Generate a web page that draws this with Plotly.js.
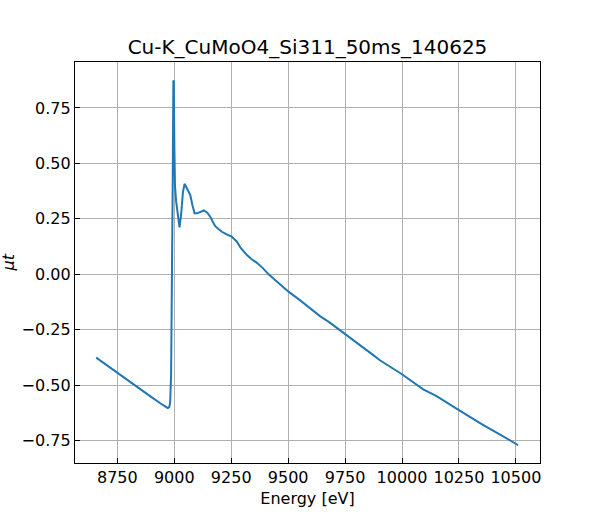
<!DOCTYPE html>
<html>
<head>
<meta charset="utf-8">
<script src="https://cdn.plot.ly/plotly-3.0.1.min.js"></script>
<style>
  body { margin: 0; background: #ffffff; }
  #myDiv { width: 600px; height: 520px; }
</style>
</head>
<body>
<div id="myDiv"></div>
<script>
// energy [eV]
var energy = [
  8657, 8700, 8750, 8800, 8850, 8900, 8940, 8960, 8971, 8978,
  8982, 8986, 8990, 8993, 8996, 8998, 9000, 9003, 9008, 9015,
  9023, 9030, 9038, 9045, 9055, 9070, 9080, 9089, 9100, 9115,
  9130, 9145, 9158, 9170, 9180, 9195, 9209, 9230, 9252, 9275,
  9290, 9319, 9340, 9363, 9390, 9414, 9450, 9503, 9550, 9600,
  9640, 9680, 9720, 9753, 9800, 9874, 9903, 10000, 10093, 10150,
  10250, 10350, 10450, 10500, 10510
];
// mu t
var mut = [
  -0.375, -0.407, -0.445, -0.482, -0.518, -0.553, -0.582, -0.597, -0.602, -0.598,
  -0.575, -0.45, -0.1, 0.4, 0.87, 0.874, 0.6, 0.4, 0.33, 0.27,
  0.212, 0.27, 0.37, 0.408, 0.39, 0.358, 0.31, 0.275, 0.275, 0.283,
  0.288, 0.278, 0.26, 0.235, 0.217, 0.203, 0.192, 0.18, 0.17, 0.147,
  0.122, 0.087, 0.068, 0.052, 0.027, 0.0, -0.033, -0.079, -0.115, -0.155,
  -0.188, -0.215, -0.245, -0.27, -0.305, -0.364, -0.387, -0.45, -0.518, -0.548,
  -0.612, -0.675, -0.733, -0.763, -0.770
];

var chartTitle = 'Cu-K_CuMoO4_Si311_50ms_140625';
var xLabel = 'Energy [eV]';
var yLabel = '<i>μt</i>';

var trace = [{
  x: energy,
  y: mut,
  type: 'scatter',
  mode: 'lines',
  line: { color: '#1f77b4', width: 2 },
  hoverinfo: 'skip',
}];

var axisStyle = {
  showgrid: true,
  gridcolor: '#b0b0b0',
  gridwidth: 1,
  zeroline: false,
  showline: true,
  mirror: true,
  linecolor: '#000000',
  linewidth: 1.2,
  ticks: 'inside',
  ticklen: 5,
  tickwidth: 1,
  tickcolor: '#000000',
  tickfont: { family: 'DejaVu Sans', size: 16, color: '#000000' },
};

var layout = {
  width: 600,
  height: 520,
  margin: { l: 75, r: 60, t: 62, b: 57 },
  paper_bgcolor: '#ffffff',
  plot_bgcolor: '#ffffff',
  showlegend: false,
  font: { family: 'DejaVu Sans', color: '#000000' },
  title: {
    text: chartTitle,
    font: { family: 'DejaVu Sans', size: 20, color: '#000000' },
    x: 0.5,
    xref: 'paper',
    y: 1 - 47 / 520,
    yref: 'container',
    yanchor: 'middle',
  },
  xaxis: Object.assign({}, axisStyle, {
    range: [8564, 10606],
    dtick: 250,
    tick0: 0,
    tickformat: 'd',
    title: { text: xLabel, font: { family: 'DejaVu Sans', size: 16, color: '#000000' }, standoff: 6 },
  }),
  yaxis: Object.assign({}, axisStyle, {
    range: [-0.850, 0.957],
    dtick: 0.25,
    tick0: 0,
    tickformat: '.2f',
  }),
  annotations: [{
    text: yLabel,
    xref: 'paper',
    yref: 'paper',
    x: (8 - 75) / 465,
    y: 0.5,
    xanchor: 'center',
    yanchor: 'middle',
    textangle: -90,
    showarrow: false,
    font: { family: 'DejaVu Sans', size: 16, color: '#000000' },
  }],
};

var config = { displayModeBar: false, staticPlot: true };

Plotly.newPlot('myDiv', trace, layout, config);
</script>
</body>
</html>
